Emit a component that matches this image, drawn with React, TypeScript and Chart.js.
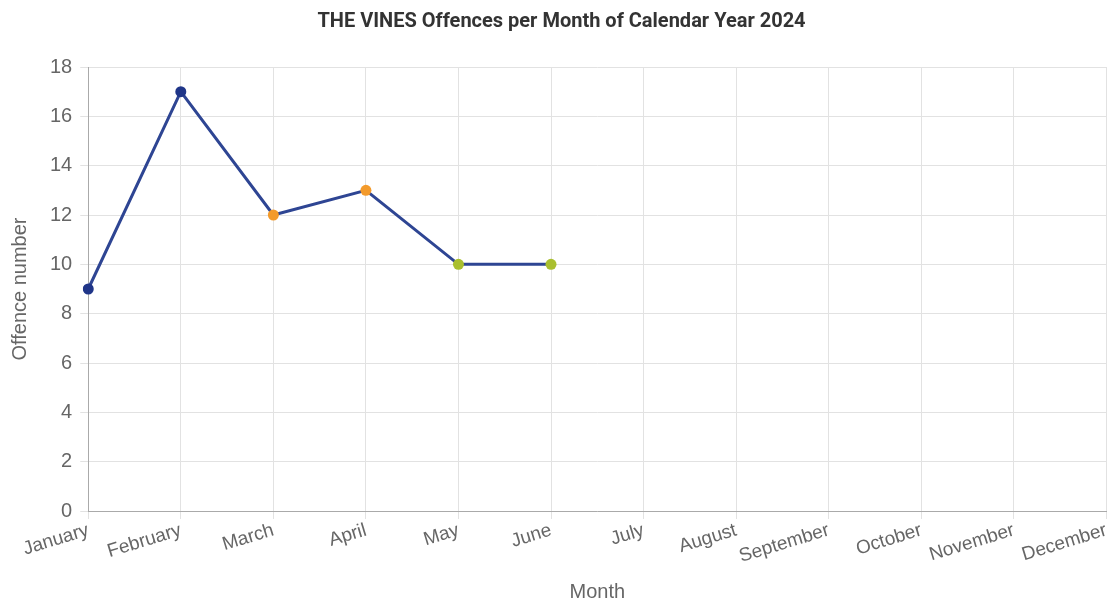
import React, { useEffect, useRef } from "react";
import { Chart, registerables } from "chart.js";

Chart.register(...registerables);

const months = ["January", "February", "March", "April", "May", "June", "July", "August", "September", "October", "November", "December"];
const offences = [9, 17, 12, 13, 10, 10, null, null, null, null, null, null];
const pointColors = ["#1f3588", "#1f3588", "#f39a2b", "#f39a2b", "#a9bf2f", "#a9bf2f", "#1f3588", "#1f3588", "#1f3588", "#1f3588", "#1f3588", "#1f3588"];
const titleText = "THE VINES Offences per Month of Calendar Year 2024";
const yTitle = "Offence number";
const xTitle = "Month";

export default function App() {
  const ref = useRef<HTMLCanvasElement | null>(null);
  useEffect(() => {
    document.body.style.margin = "0";
    if (!ref.current) return;
    const chart = new Chart(ref.current, {
      type: "line",
      data: {
        labels: months,
        datasets: [
          {
            data: offences,
            borderColor: "#2e4593",
            borderWidth: 3,
            pointBackgroundColor: pointColors,
            pointBorderColor: pointColors,
            pointRadius: 5.5,
            pointBorderWidth: 0,
            tension: 0,
            spanGaps: false,
          },
        ],
      },
      options: {
        animation: false,
        responsive: true,
        maintainAspectRatio: false,
        layout: { padding: { left: 8, right: -2, top: 0, bottom: -4 } },
        plugins: {
          legend: { display: false },
          title: {
            display: true,
            text: titleText,
            color: "#333333",
            font: { family: "Roboto", size: 20, weight: "bold" },
            padding: { top: 10, bottom: 33 },
          },
          tooltip: { enabled: false },
        },
        scales: {
          x: {
            offset: false,
            grid: { color: "#e2e2e2", tickLength: 8 },
            border: { color: "#aaaaaa" },
            ticks: {
              color: "#666666",
              font: { family: "Liberation Sans", size: 19 },
              maxRotation: 17,
              minRotation: 17,
              padding: 0,
            },
            title: {
              display: true,
              text: xTitle,
              color: "#666666",
              font: { family: "Liberation Sans", size: 20 },
              padding: { top: 12, bottom: 0 },
            },
          },
          y: {
            min: 0,
            max: 18,
            grid: { color: "#e2e2e2", tickLength: 8 },
            border: { color: "#aaaaaa" },
            ticks: {
              stepSize: 2,
              color: "#666666",
              font: { family: "Liberation Sans", size: 20 },
              padding: 8,
            },
            title: {
              display: true,
              text: yTitle,
              color: "#666666",
              font: { family: "Liberation Sans", size: 20 },
              padding: { top: 0, bottom: 10 },
            },
          },
        },
      },
    });
    return () => chart.destroy();
  }, []);
  return (
    <div style={{ position: "fixed", left: 0, top: 0, width: "1113px", height: "600px" }}>
      <canvas ref={ref} />
    </div>
  );
}
